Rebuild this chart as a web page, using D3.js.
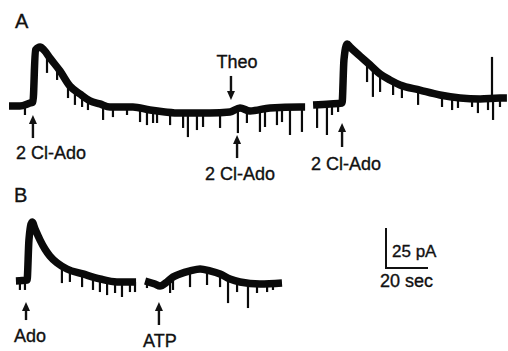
<!DOCTYPE html>
<html>
<head>
<meta charset="utf-8">
<script src="https://cdn.jsdelivr.net/npm/d3@7"></script>
<style>
  body { margin: 0; background: #fff; }
  text { font-family: 'Liberation Sans', Arial, sans-serif; fill: #111; stroke: #111; stroke-width: 0.35; }
</style>
</head>
<body>
<svg id="chart" width="508" height="351"></svg>
<script>
// all traces: [time (s), current (pA)], 0 pA = holding baseline

// panel A, first sweep (2 Cl-Ado, then Theo + 2 Cl-Ado)
const traceA1 = [[0, 0.6], [5.2, 0.6], [10, 2.5], [11.4, 3.1], [12.6, 35.6], [14.8, 37.5], [16.7, 35.6],
  [19.5, 30.6], [24.3, 22.5], [29, 13.1], [33.8, 8.1], [38.6, 3.8], [43.3, 1.9], [48.1, 0], [52.9, 0],
  [59, 0], [67.1, -1.9], [74.3, -3.1], [81.4, -3.8], [95.7, -3.8], [105.2, -3.1], [110, -0.6],
  [114.8, -2.5], [124.3, -0.6], [138.6, 0], [141, 0]];
const spikesA1 = [[7.6, -5], [18.1, 21.3], [22.9, 16.9], [28.1, 5.6], [31.4, 1.3], [34.8, 0], [37.6, -1.9],
  [44.8, -8.1], [49.5, -6.3], [56.2, -5], [62.4, -9.4], [65.7, -11.3], [68.6, -10], [70.5, -10],
  [76.7, -11.3], [82.9, -13.1], [85.2, -18.8], [89.5, -14.4], [92.4, -12.5], [100.5, -13.1], [109, -16.3],
  [113.3, -10], [119.5, -15.6], [121.9, -12.5], [127.6, -11.3], [130, -9.4], [133.8, -17.5], [139.5, -15.6]];

// panel A, second sweep (2 Cl-Ado after wash)
const traceA2 = [[144.8, 1.3], [152.9, 1.9], [158.6, 2.5], [159.5, 29.4], [161, 39.4], [162.4, 37.5],
  [167.1, 31.9], [171.9, 26.3], [176.7, 20.6], [181.4, 16.9], [186.2, 13.8], [195.7, 10.6], [205.2, 7.5],
  [214.8, 5.6], [224.3, 5], [233.8, 5.6], [237.1, 5.6]];
const spikesA2 = [[146.7, -13.1], [151.4, -17.5], [153.8, -5], [156.7, -3.1], [170.5, 15.6], [173.3, 6.3],
  [176.7, 9.4], [182.9, 7.5], [187.1, 5.6], [194.8, 1.3], [206.2, 0], [211, -1.9], [213.8, -0.6],
  [220.5, 0], [223.3, -3.8], [228.1, -1.9], [230, 31.3], [230.5, -8.1], [233.8, 0]];

// panel B: Ado sweep and ATP sweep
const traceB1 = [[3.3, 0], [8.6, 0.6], [9.5, 25.6], [11, 36.9], [12.4, 32.5], [14.8, 25.6], [17.1, 20],
  [19.5, 15.6], [22.9, 11.3], [27.6, 7.5], [35.2, 4.4], [43.3, 1.3], [51.4, -0.6], [60.5, -0.6]];
const spikesB1 = [[5.2, -5.6], [7.6, -5.6], [25.2, -1.3], [29, -0.6], [34.8, -3.8], [40, -5.6], [43.3, -6.9],
  [46.7, -8.8], [50.5, -7.5], [53.8, -10], [57.6, -6.9], [60, -6.9]];
const traceB2 = [[64.8, 0], [69.5, -1.9], [71.9, -3.1], [75.2, -0.6], [78.1, 2.5], [81.4, 4.4], [86.2, 6.3],
  [91, 7.5], [95.7, 6.3], [100.5, 4.4], [105.2, 1.3], [110, -0.6], [119.5, -1.9], [130, -1.3]];
const spikesB2 = [[65.7, -4.4], [76.7, -7.5], [78.1, -5.6], [86.2, -3.8], [94.3, -2.5], [100.5, -3.8],
  [104.3, -13.8], [108.6, -6.9], [113.8, -16.9], [118.1, -7.5], [122.9, -6.9], [125.7, -5.6]];

// drug applications: label, time (s), arrow tail and tip (pA)
const arrowsA = [['2 Cl-Ado', 11.4, -19.4, -5], ['Theo', 105.7, 19.4, 4.4],
  ['2 Cl-Ado', 108.6, -31.9, -17.5], ['2 Cl-Ado', 158.6, -25, -10]];
const arrowsB = [['Ado', 8.1, -24.4, -13.1], ['ATP', 71.4, -27.5, -13.1]];

const scaleBar = { sec: 20, pA: 25 };

// ---- layout ----
const svg = d3.select('#chart');

const x = d3.scaleLinear().domain([0, 20]).range([9, 51]);
const yA = d3.scaleLinear().domain([0, 25]).range([107, 67]);
const yB = d3.scaleLinear().domain([0, 25]).range([281, 241]);

const labelDx = { A: [18, 6, 3, 4], B: [4, 1] };
const labelDy = { A: [21, -8, 22, 23], B: [22, 22] };

function valueAt(trace, t) {
  const i = d3.bisector(d => d[0]).center(trace, t);
  const j = trace[i][0] > t ? Math.max(i - 1, 0) : Math.min(i + 1, trace.length - 1);
  const a = trace[Math.min(i, j)], b = trace[Math.max(i, j)];
  if (a[0] === b[0]) return a[1];
  return a[1] + (b[1] - a[1]) * (t - a[0]) / (b[0] - a[0]);
}

function drawTrace(y, trace, spikes) {
  const line = d3.line().x(d => x(d[0])).y(d => y(d[1])).curve(d3.curveMonotoneX);

  svg.append('path')
    .datum(trace)
    .attr('d', line)
    .attr('fill', 'none')
    .attr('stroke', '#0a0a0a')
    .attr('stroke-width', 7.5)
    .attr('stroke-linejoin', 'round');

  svg.append('g').selectAll('line').data(spikes)
    .join('line')
    .attr('x1', d => x(d[0]))
    .attr('x2', d => x(d[0]))
    .attr('y1', d => y(valueAt(trace, d[0])))
    .attr('y2', d => y(d[1]))
    .attr('stroke', '#0a0a0a')
    .attr('stroke-width', 2.2);
}

function drawArrows(y, arrows, dxs, dys) {
  const g = svg.append('g');
  arrows.forEach((a, i) => {
    const ax = x(a[1]), y0 = y(a[2]), y1 = y(a[3]);
    const dir = y1 > y0 ? 1 : -1;
    g.append('line')
      .attr('x1', ax).attr('x2', ax)
      .attr('y1', y0).attr('y2', y1 - dir * 7)
      .attr('stroke', '#111').attr('stroke-width', 2.4);
    g.append('path')
      .attr('d', `M${ax},${y1}L${ax - 4},${y1 - dir * 9}L${ax + 4},${y1 - dir * 9}Z`)
      .attr('fill', '#111');
    g.append('text')
      .attr('x', ax + dxs[i])
      .attr('y', y0 + dys[i])
      .attr('text-anchor', 'middle')
      .attr('font-size', 18)
      .text(a[0]);
  });
}

drawTrace(yA, traceA1, spikesA1);
drawTrace(yA, traceA2, spikesA2);
drawTrace(yB, traceB1, spikesB1);
drawTrace(yB, traceB2, spikesB2);

drawArrows(yA, arrowsA, labelDx.A, labelDy.A);
drawArrows(yB, arrowsB, labelDx.B, labelDy.B);

// panel letters
svg.append('text').attr('x', 15).attr('y', 28).attr('font-size', 20).attr('stroke-width', 0.6).text('A');
svg.append('text').attr('x', 14).attr('y', 202).attr('font-size', 20).attr('stroke-width', 0.6).text('B');

// calibration bar
const bar = svg.append('g').attr('transform', 'translate(386,268)');
const barW = x(scaleBar.sec) - x(0);
const barH = yB(0) - yB(scaleBar.pA);
bar.append('path')
  .attr('d', `M0,${-barH}V0H${barW}`)
  .attr('fill', 'none')
  .attr('stroke', '#111')
  .attr('stroke-width', 2);
bar.append('text').attr('x', 6).attr('y', -11).attr('font-size', 17).text(`${scaleBar.pA} pA`);
bar.append('text').attr('x', -6).attr('y', 19).attr('font-size', 18).text(`${scaleBar.sec} sec`);
</script>
</body>
</html>
